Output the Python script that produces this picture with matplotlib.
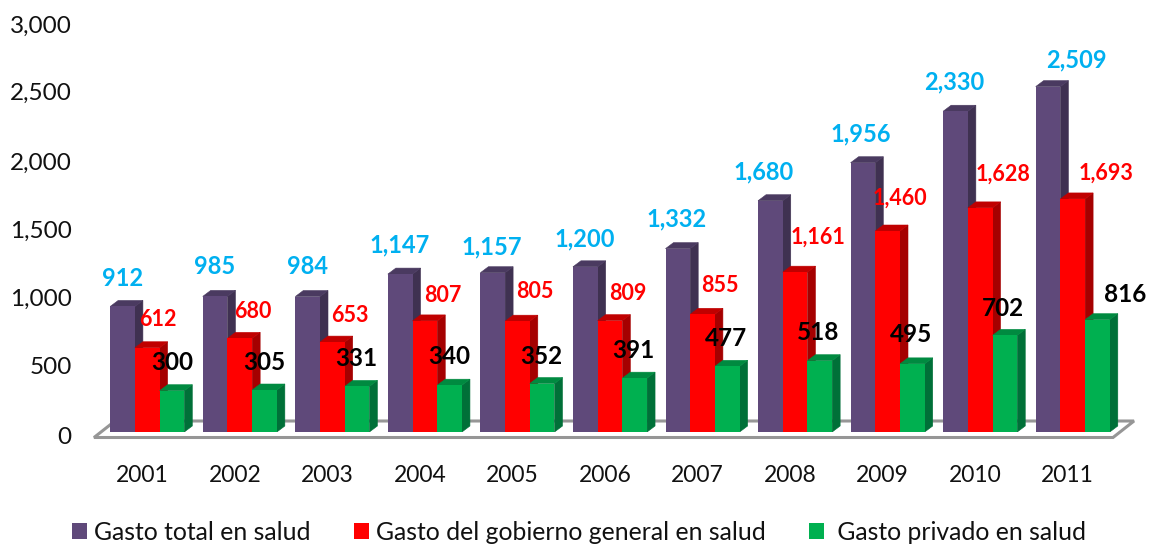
import matplotlib
matplotlib.use("Agg")
import matplotlib.pyplot as plt
from matplotlib.patches import Polygon, Patch
from matplotlib.transforms import Affine2D

plt.rcParams['font.family'] = ['Lato', 'DejaVu Sans']

years = ['2001', '2002', '2003', '2004', '2005', '2006', '2007', '2008', '2009', '2010', '2011']
total = [912, 985, 984, 1147, 1157, 1200, 1332, 1680, 1956, 2330, 2509]
gobierno = [612, 680, 653, 807, 805, 809, 855, 1161, 1460, 1628, 1693]
privado = [300, 305, 331, 340, 352, 391, 477, 518, 495, 702, 816]
y_ticks = [0, 500, 1000, 1500, 2000, 2500, 3000]
y_tick_offsets = [3, 2, 3, 4, 5, 4, 5]  # px shift of the wall labels

# label centres in pixels of the picture
total_lx = [123, 215, 307, 400, 492, 585, 677, 764, 861, 954, 1076]
total_ly = [278, 267, 267, 245, 247, 239, 219, 172, 134, 82, 60]
gob_lx = [158, 253, 350, 443, 535, 628, 720, 818, 900, 1003, 1106]
gob_ly = [320, 312, 316, 295, 291, 294, 285, 237, 198, 174, 173]
priv_lx = [172, 264, 356, 449, 541, 633, 726, 818, 911, 1003, 1125]
priv_ly = [363, 362, 358, 357, 356, 350, 338, 333, 335, 308, 294]

W, H = 1157, 544
AX_L, AX_R, Y0, Y3000 = 94, 1134, 432, 19
X0, STEP, BAR_PX = 147.25, 92.55, 24.7
DX_PX, DY_PX = 8, 6

fig = plt.figure(figsize=(W / 100, H / 100), dpi=100, facecolor='white')
ax = fig.add_axes([AX_L / W, 1 - Y0 / H, (AX_R - AX_L) / W, (Y0 - Y3000) / H])
ax.set_xlim((AX_L - X0) / STEP, (AX_R - X0) / STEP)
ax.set_ylim(0, 3000)
ax.patch.set_visible(False)
for s in ax.spines.values():
    s.set_visible(False)

bw = BAR_PX / STEP
dx = DX_PX / STEP
dy = DY_PX * 3000 / (Y0 - Y3000)
xs = list(range(len(years)))

# floor (pixel-space parallelogram)
floor_px = [(94, 437.5), (1113, 437.5), (1134, 421), (115, 421)]
floor = Polygon([(x / W, 1 - y / H) for x, y in floor_px], closed=True, transform=fig.transFigure,
                facecolor='white', edgecolor='#969696', linewidth=2.2, zorder=1)
fig.add_artist(floor)
floor.set_zorder(-1)
ax.set_zorder(2)

series = [
    (total, -1, '#5F497A', '#3F3151', '#4A3A60', 'Gasto total en salud'),
    (gobierno, 0, '#FF0000', '#A50000', '#C00000', 'Gasto del gobierno general en salud'),
    (privado, 1, '#00B050', '#007038', '#008A40', ' Gasto privado en salud'),
]
z = 3
handles = []
for i in xs:
    for vals, off, front, side, top, _ in series:
        x = i + off * bw
        v = vals[i]
        l, r = x - bw / 2, x + bw / 2
        ax.add_patch(Polygon([(r, 0), (r + dx, dy), (r + dx, v + dy), (r, v)], closed=True,
                             facecolor=side, edgecolor=side, linewidth=0.4, zorder=z))
        ax.add_patch(Polygon([(l, v), (r, v), (r + dx, v + dy), (l + dx, v + dy)], closed=True,
                             facecolor=top, edgecolor=top, linewidth=0.4, zorder=z))
        ax.bar(x, v, width=bw, color=front, linewidth=0, zorder=z + 0.5)
        z += 1
for vals, off, front, side, top, name in series:
    handles.append(Patch(facecolor=front, edgecolor='none', label=name))

ax.set_xticks(xs)
ax.set_xticklabels(years, fontsize=16.5, color='#111111')
ax.set_yticks(y_ticks)
ax.set_yticklabels([f'{v:,}' for v in y_ticks], fontsize=17.5, color='#111111')
ax.tick_params(axis='both', length=0)
ax.tick_params(axis='x', pad=24)
ax.tick_params(axis='y', pad=16)
for lab in ax.get_xticklabels():
    lab.set_transform(lab.get_transform() + Affine2D().translate(-5, 0))
for lab, o in zip(ax.get_yticklabels(), y_tick_offsets):
    lab.set_transform(lab.get_transform() + Affine2D().translate(0, -o))

def put(vals, lx, ly, color, size):
    for v, x, y in zip(vals, lx, ly):
        fig.text(x / W, 1 - y / H, f'{v:,}', color=color, fontsize=size, fontweight='bold',
                 ha='center', va='center', zorder=10000)

put(total, total_lx, total_ly, '#00B0F0', 17)
put(gobierno, gob_lx, gob_ly, '#FF0000', 15.5)
put(privado, priv_lx, priv_ly, '#000000', 17.5)

leg = fig.legend(handles=handles, ncol=3, loc='center', bbox_to_anchor=(579 / W, 1 - 532.5 / H),
                 frameon=False, fontsize=17.8, handlelength=0.6, handleheight=0.6,
                 handletextpad=0.28, columnspacing=1.75, labelcolor='#111111', borderpad=0)

fig.savefig('out.png', dpi=100, facecolor='white')
